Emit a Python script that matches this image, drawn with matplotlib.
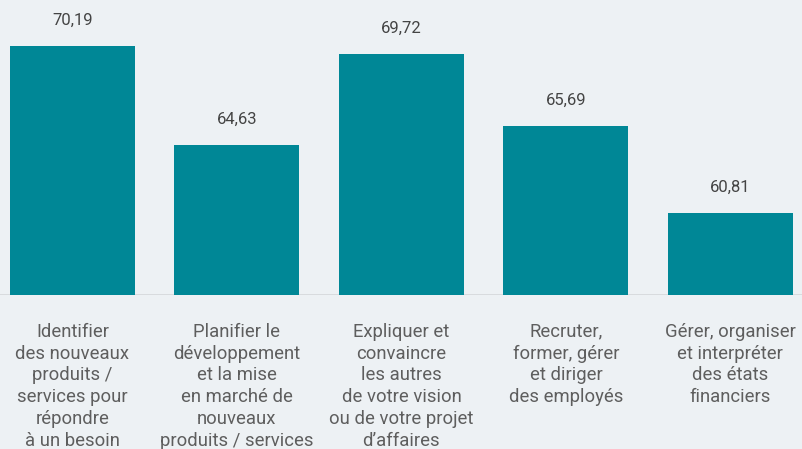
import matplotlib.pyplot as plt

categories = [
    "Identifier\ndes nouveaux\nproduits /\nservices pour\nrépondre\nà un besoin",
    "Planifier le\ndéveloppement\net la mise\nen marché de\nnouveaux\nproduits / services",
    "Expliquer et\nconvaincre\nles autres\nde votre vision\nou de votre projet\nd’affaires",
    "Recruter,\nformer, gérer\net diriger\ndes employés",
    "Gérer, organiser\net interpréter\ndes états\nfinanciers",
]
values = [70.19, 64.63, 69.72, 65.69, 60.81]
value_labels = ["70,19", "64,63", "69,72", "65,69", "60,81"]

bg = "#edf1f4"
bar_color = "#008796"

plt.rcParams["font.family"] = ["Roboto", "DejaVu Sans"]

fig = plt.figure(figsize=(8.02, 4.49), dpi=100, facecolor=bg)
ax = fig.add_axes([0, 0.343, 1, 0.657], facecolor=bg)

x = list(range(len(values)))
ymin = 56.2
ax.bar(x, [v - ymin for v in values], bottom=ymin, width=0.76, color=bar_color, zorder=2)
ax.set_xlim(-0.44, 4.435)
ax.set_ylim(ymin, 72.77)
ax.axhline(ymin, color="#d6d9dc", lw=2, zorder=1)

for i, v in enumerate(values):
    ax.annotate(value_labels[i], xy=(i, v), xytext=(0, 13), textcoords="offset points",
                ha="center", va="bottom", fontsize=12, color="#444444")
    ax.annotate(categories[i], xy=(i, ymin), xytext=(0, -20), textcoords="offset points",
                ha="center", va="top", fontsize=13.3, color="#5e5e5e", linespacing=1.27,
                annotation_clip=False)

for s in ax.spines.values():
    s.set_visible(False)
ax.set_xticks([])
ax.set_yticks([])

fig.savefig("out.png", dpi=100, facecolor=bg)
